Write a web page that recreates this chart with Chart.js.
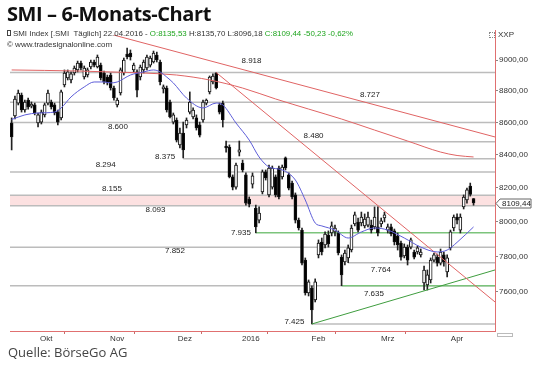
<!DOCTYPE html>
<html lang="de"><head><meta charset="utf-8">
<title>SMI – 6-Monats-Chart</title>
<script src="https://cdn.jsdelivr.net/npm/chart.js@4.4.1/dist/chart.umd.min.js"></script>
<style>
html,body{margin:0;padding:0;background:#fff;}
#wrap{position:relative;width:540px;height:383px;overflow:hidden;background:#fff;}
#c{position:absolute;left:0;top:0;}
.t{position:absolute;white-space:nowrap;margin:0;}
#title{left:7px;top:4px;font-family:"Open Sans",sans-serif;font-weight:700;font-size:20px;line-height:20px;letter-spacing:-0.4px;color:#111;}
#info{left:13px;top:30px;font-family:"Liberation Sans",Arial,sans-serif;font-size:7.9px;line-height:8px;color:#333;}
#copy{left:7px;top:41px;font-family:"Liberation Sans",Arial,sans-serif;font-size:8px;line-height:8px;color:#333;}
#src{left:8px;top:346px;font-family:"Open Sans",sans-serif;font-size:13px;line-height:13px;color:#444;}
#xxp{left:498px;top:31px;font-family:"Liberation Sans",Arial,sans-serif;font-size:8px;line-height:8px;color:#333;}
.g{color:#1fa51f;}
#ico{position:absolute;left:7px;top:30px;width:2px;height:4px;border:1px solid #444;}
#ico2{position:absolute;left:489px;top:32px;width:4px;height:4px;border:1px dotted #888;}
#ctl{position:absolute;left:497px;top:333px;width:14px;height:2px;border:1px solid #bbb;}
</style></head><body>
<div id="wrap">
<canvas id="c" width="540" height="383"></canvas>
<div class="t" id="title">SMI – 6-Monats-Chart</div>
<div id="ico"></div>
<div class="t" id="info">SMI Index [.SMI&nbsp;&nbsp;Täglich] 22.04.2016 - <span class="g">O:8135,53</span> H:8135,70 L:8096,18 <span class="g">C:8109,44 -50,23 -0,62%</span></div>
<div class="t" id="copy">© www.tradesignalonline.com</div>
<div id="ico2"></div>
<div class="t" id="xxp">XXP</div>
<div id="ctl"></div>
<div class="t" id="src">Quelle: BörseGo AG</div>
</div>
<script>
// ---- data ----
const monthDays = [
  ['2015-10', [1,2,5,6,7,8,9,12,13,14,15,16,19,20,21,22,23,26,27,28,29,30]],
  ['2015-11', [2,3,4,5,6,9,10,11,12,13,16,17,18,19,20,23,24,25,26,27,30]],
  ['2015-12', [1,2,3,4,7,8,9,10,11,14,15,16,17,18,21,22,23,28,29,30]],
  ['2016-01', [4,5,6,7,8,11,12,13,14,15,18,19,20,21,22,25,26,27,28,29]],
  ['2016-02', [1,2,3,4,5,8,9,10,11,12,15,16,17,18,19,22,23,24,25,26,29]],
  ['2016-03', [1,2,3,4,7,8,9,10,11,14,15,16,17,18,21,22,23,24,29,30,31]],
  ['2016-04', [1,4,5,6,7,8,11,12,13,14,15,18,19,20,21,22]]
];
const monthLabels = ['Okt','Nov','Dez','2016','Feb','Mrz','Apr'];
const monthSessions = [22,21,20,20,21,21,21];

const openV = [8596,8640,8722,8773,8678,8741,8703,8710,8596,8602,8647,8722,8729,8710,8665,8628,8838,8883,8870,8915,8935,8980,
8889,8902,8954,8987,8954,8967,8915,8889,8902,8818,8710,8786,8915,9039,9046,8935,8922,8889,8935,8948,8967,
8987,9033,8987,8812,8818,8729,8602,8615,8460,8534,8584,8665,8634,8628,8584,8615,8722,8793,8857,8915,
8710,8722,8453,8447,8265,8204,8416,8349,8277,8133,8222,8080,8009,8175,8295,8157,8204,8265,8319,8265,
8380,8277,8228,8157,8009,7951,7779,7595,7622,7556,7808,7882,7865,7922,7934,7940,7934,7796,7768,7791,7836,
7986,7998,7992,7975,7980,7980,7969,7969,7986,8021,7951,7969,7946,7917,7876,7802,7853,7853,7825,7825,7808,
7650,7639,7667,7779,7796,7762,7808,7712,7848,7963,8027,7951,8086,8127,8210,8135.53];
const highV = [8628,8767,8805,8786,8741,8754,8729,8722,8659,8678,8722,8805,8741,8722,8678,8805,8935,8935,8922,8961,8993,8993,
8961,8948,9000,9000,9033,8980,8928,8902,8915,8831,8754,8948,9013,9079,9066,8980,8935,8967,9000,9033,9026,
9059,9052,9000,8838,8831,8741,8659,8628,8565,8602,8628,8793,8691,8647,8602,8741,8748,8896,8909,8918,
8722,8735,8484,8460,8277,8349,8484,8367,8289,8145,8289,8097,8086,8307,8307,8337,8331,8277,8331,8337,
8386,8289,8240,8169,8021,7963,7791,7667,7634,7673,7894,7905,7940,7946,7998,7980,7946,7808,7836,7865,7980,
8056,8021,8056,8045,8056,8009,8086,8086,8021,8056,7986,7986,7957,7934,7888,7871,7865,7905,7836,7859,7842,
7745,7723,7791,7819,7813,7842,7825,7808,7951,8039,8045,8045,8157,8198,8228,8135.70];
const lowV = [8429,8621,8710,8665,8665,8684,8691,8647,8571,8590,8634,8710,8684,8647,8584,8615,8825,8870,8851,8902,8922,8935,
8876,8889,8941,8954,8948,8870,8844,8838,8805,8741,8697,8773,8902,9007,9000,8922,8761,8870,8915,8935,8954,
8980,8987,8838,8786,8665,8628,8590,8478,8441,8380,8565,8653,8621,8552,8509,8602,8710,8780,8844,8812,
8653,8571,8416,8259,8187,8192,8392,8295,8097,8086,8198,7935,7992,8163,8246,8145,8192,8145,8133,8252,
8307,8187,8133,7992,7951,7751,7583,7578,7425,7545,7791,7808,7848,7853,7917,7917,7808,7635,7751,7764,7825,
7975,7940,7975,7963,7969,7934,7957,7917,7969,7998,7934,7917,7865,7836,7779,7791,7751,7842,7785,7813,7796,
7611,7611,7650,7768,7745,7751,7745,7684,7836,7946,7986,7934,8074,8109,8150,8096.18];
const closeV = [8509,8748,8786,8678,8729,8697,8716,8659,8647,8665,8710,8786,8697,8659,8602,8793,8915,8922,8909,8948,8980,8948,
8948,8935,8987,8967,9020,8883,8857,8851,8818,8754,8741,8935,9000,9020,9020,8967,8805,8954,8987,9020,9013,
9046,9000,8857,8825,8678,8634,8647,8490,8534,8429,8615,8729,8678,8565,8521,8729,8741,8889,8896,8818,
8665,8615,8441,8265,8204,8337,8429,8307,8109,8103,8271,7969,8050,8295,8259,8319,8319,8157,8145,8325,
8319,8198,8145,8009,7963,7762,7595,7656,7501,7656,7876,7825,7928,7871,7975,7963,7819,7695,7819,7848,7963,
8039,7951,8027,8015,8027,7951,8027,7934,8004,8039,7969,7928,7882,7865,7796,7853,7779,7894,7796,7848,7825,
7723,7695,7779,7808,7762,7825,7768,7791,7940,8027,8009,8027,8145,8187,8159.67,8109.44];

// 20-day average (blue), read at sample sessions
const ma20At  = [0,4,8,13,15,18,22,25,28,30,32,36,40,43,45,47,49,53,58,62,64,68,72,75,78,82,86,89,92,94,98,102,106,110,114,119,124,129,132,135,140];
const ma20Val = [8618,8647,8659,8665,8691,8761,8825,8857,8857,8851,8857,8902,8922,8935,8922,8889,8851,8754,8691,8722,8710,8596,8490,8386,8325,8307,8246,8127,7992,7975,7951,7905,7940,7963,7951,7905,7853,7825,7836,7880,7969];
// 200-day average (red)
const ma200At  = [0,10,20,30,40,50,60,70,80,90,100,110,120,130,135,140];
const ma200Val = [8935,8932,8928,8922,8915,8902,8870,8818,8748,8684,8621,8552,8484,8416,8395,8386];

// trend lines: [session, value] pairs
const trendDownLong  = [[31, 9165], [146.5, 8509]];
const trendDownSteep = [[62, 8918], [146.5, 7545]];
const trendUp        = [[91, 7425], [146.5, 7723]];

// horizontal levels
const levels      = [8918, 8727, 8600, 8480, 8375, 8294, 8155, 8093, 7935, 7852, 7764, 7635, 7425];
const levelLabels = ['8.918','8.727','8.600','8.480','8.375','8.294','8.155','8.093','7.935','7.852','7.764','7.635','7.425'];
const levelFrom   = [-0.5, -0.5, -0.5, 65, 52, -0.5, -0.5, -0.5, 74, -0.5, 102, -0.5, 91];

const yTicks = [7600, 7800, 8000, 8200, 8400, 8600, 8800, 9000];

// ---- layout / style (not data) ----
const X_MIN = -0.5, X_MAX = 146.5;
const Y_MIN = 7387, Y_MAX = 9199;
const labelLayout = [
  {at:72.7, dy:-11.5}, {at:108.6, dy:-7}, {at:32.2, dy:4.6}, {at:91.5, dy:-5.7},
  {at:46.5, dy:-1.7}, {at:28.5, dy:-7.5}, {at:30.4, dy:-6.3}, {at:43.6, dy:4.3},
  {at:69.5, dy:-0.5}, {at:49.5, dy:4}, {at:111.9, dy:7}, {at:109.8, dy:8.4}, {at:85.7, dy:-2}
];
const GRAY = '#bcbcbc', GREEN = '#7cc47c', RED = '#e06464', BLUE = '#5d5dd8', AXIS = '#e07070';

const dates = monthDays.flatMap(([m, ds]) => ds.map(d => m + '-' + String(d).padStart(2, '0')));
const monthStart = [];
{ let acc = 0; monthDays.forEach(([m, ds]) => { monthStart.push(acc); acc += ds.length; }); }
const xTickList = [];
monthStart.forEach((s, k) => {
  xTickList.push({value: s - 0.5, boundary: true, lab: ''});
  xTickList.push({value: s + (monthSessions[k] - 1) / 2, boundary: false, lab: monthLabels[k]});
});

const bodyData = dates.map((d, i) => ({x: i, y: [openV[i], closeV[i]]}));
const wickData = dates.map((d, i) => ({x: i, y: [lowV[i], highV[i]]}));
const isUp = i => closeV[i] >= openV[i];

const lineDs = (pts, color, width, order, extra) => Object.assign({
  type: 'line', data: pts.map(p => ({x: p[0], y: p[1]})), borderColor: color, borderWidth: width,
  pointRadius: 0, tension: 0, order: order, fill: false
}, extra || {});

const datasets = [];
levels.forEach((lv, k) => {
  const green = (lv === 7935);
  datasets.push(lineDs([[levelFrom[k], lv], [X_MAX, lv]], green ? GREEN : GRAY, 1.5, 20,
    lv === 8093 ? {fill: {value: 8155}, backgroundColor: 'rgba(250,200,200,0.55)'} : {}));
});
datasets.push(lineDs([[100, 7635], [X_MAX, 7635]], GREEN, 1.5, 19));
datasets.push({type: 'bar', label: 'Docht', data: wickData, barThickness: 1, borderWidth: 0,
  backgroundColor: '#222', grouped: false, order: 6});
datasets.push({type: 'bar', label: 'SMI', data: bodyData, barThickness: 3, borderWidth: 1, borderSkipped: false,
  minBarLength: 1, borderColor: '#111', backgroundColor: ctx => isUp(ctx.dataIndex) ? '#ffffff' : '#000000',
  grouped: false, order: 5});
datasets.push(lineDs(ma200At.map((a, k) => [a, ma200Val[k]]), RED, 1, 2, {tension: 0.4, cubicInterpolationMode: 'monotone'}));
datasets.push(lineDs(ma20At.map((a, k) => [a, ma20Val[k]]), BLUE, 1, 1, {tension: 0.4, cubicInterpolationMode: 'monotone'}));
datasets.push(lineDs(trendDownLong, RED, 1, 2));
datasets.push(lineDs(trendDownSteep, RED, 1, 2));
datasets.push(lineDs(trendUp, '#3f9d3f', 1, 2));

const annot = {
  id: 'annot',
  afterDatasetsDraw(chart) {
    const {ctx, scales: {x, y}} = chart;
    ctx.save();
    ctx.font = '8px "Liberation Sans", Arial, sans-serif';
    ctx.fillStyle = '#222';
    ctx.textAlign = 'center';
    ctx.textBaseline = 'middle';
    levels.forEach((lv, k) => {
      ctx.fillText(levelLabels[k], x.getPixelForValue(labelLayout[k].at), y.getPixelForValue(lv) + labelLayout[k].dy);
    });
    ctx.restore();
  },
  afterDraw(chart) {
    const {ctx, scales: {y}, chartArea} = chart;
    const last = closeV[closeV.length - 1];
    const py = Math.round(y.getPixelForValue(last)) + 0.5;
    const x0 = chartArea.right;
    ctx.save();
    ctx.beginPath();
    ctx.moveTo(x0 + 1, py); ctx.lineTo(x0 + 5, py - 4.5); ctx.lineTo(x0 + 36, py - 4.5);
    ctx.lineTo(x0 + 36, py + 4.5); ctx.lineTo(x0 + 5, py + 4.5); ctx.closePath();
    ctx.fillStyle = '#fff'; ctx.fill();
    ctx.strokeStyle = '#666'; ctx.lineWidth = 1; ctx.stroke();
    ctx.fillStyle = '#222';
    ctx.font = '8px "Liberation Sans", Arial, sans-serif';
    ctx.textBaseline = 'middle'; ctx.textAlign = 'left';
    ctx.fillText(last.toFixed(2).replace('.', ','), x0 + 7, py + 0.5);
    ctx.restore();
  }
};

Chart.defaults.font.family = '"Liberation Sans", Arial, sans-serif';
new Chart(document.getElementById('c'), {
  type: 'bar',
  data: {datasets},
  options: {
    responsive: false,
    animation: false,
    events: [],
    layout: {padding: {left: 10, top: 30, right: 0, bottom: 32}},
    plugins: {legend: {display: false}, tooltip: {enabled: false}},
    scales: {
      x: {
        type: 'linear', min: X_MIN, max: X_MAX, offset: false,
        afterBuildTicks: s => { s.ticks = xTickList.map(t => Object.assign({}, t)); },
        afterFit: s => { s.height = 20; },
        ticks: {autoSkip: false, maxRotation: 0, padding: 0, color: '#333', font: {size: 8},
          callback: (v) => { const t = xTickList.find(tt => Math.abs(tt.value - v) < 1e-6); return t ? t.lab : ''; }},
        grid: {drawOnChartArea: false, drawTicks: true, tickLength: 3,
          tickColor: c => (c.tick && c.tick.boundary) ? '#c86a6a' : 'rgba(0,0,0,0)'},
        border: {display: true, color: AXIS, width: 1}
      },
      y: {
        type: 'logarithmic', position: 'right', min: Y_MIN, max: Y_MAX, bounds: 'data',
        afterBuildTicks: s => { s.ticks = yTicks.map(v => ({value: v})); },
        afterFit: s => { s.width = 45; },
        ticks: {autoSkip: false, padding: 1, color: '#333', font: {size: 8},
          callback: v => Number(v).toFixed(2).replace('.', ',')},
        grid: {drawOnChartArea: false, drawTicks: true, tickLength: 3, tickColor: '#888'},
        border: {display: true, color: AXIS, width: 1}
      }
    }
  },
  plugins: [annot]
});
</script>
</body></html>
